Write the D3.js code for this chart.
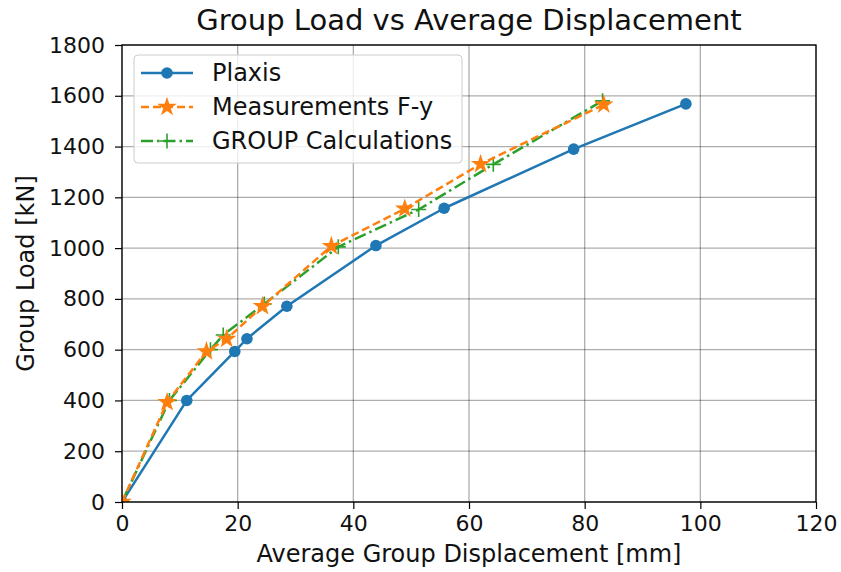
<!DOCTYPE html>
<html>
<head>
<meta charset="utf-8">
<script src="https://cdn.jsdelivr.net/npm/d3@7"></script>
<style>
  html, body { margin: 0; padding: 0; background: #fff; }
  svg { display: block; font-family: "DejaVu Sans", sans-serif; }
</style>
</head>
<body>
<svg id="chart" width="841" height="572"></svg>
<script>
// Load–displacement series (displacement in mm, load in kN)
const plaxisX = [0, 11.2, 19.5, 21.6, 28.5, 43.9, 55.7, 78.1, 97.5];
const plaxisY = [0, 400, 593, 643, 771, 1010, 1157, 1390, 1568];

const measX = [0, 7.8, 14.6, 18.1, 24.3, 36.2, 48.9, 62.0, 83.3];
const measY = [0, 393, 593, 642, 771, 1008, 1155, 1331, 1565];

const groupX = [0, 8.2, 15.3, 17.5, 24.6, 37.4, 51.3, 64.2, 83.1];
const groupY = [0, 400, 600, 658, 780, 1005, 1152, 1330, 1580];

const xTicks = [0, 20, 40, 60, 80, 100, 120];
const yTicks = [0, 200, 400, 600, 800, 1000, 1200, 1400, 1600, 1800];

const seriesNames = ["Plaxis", "Measurements F-y", "GROUP Calculations"];
const titleText = "Group Load vs Average Displacement";
const xLabelText = "Average Group Displacement [mm]";
const yLabelText = "Group Load [kN]";

const W = 841, H = 572;
const margin = { left: 122, right: 25, top: 45, bottom: 70 };
const iw = W - margin.left - margin.right;
const ih = H - margin.top - margin.bottom;

const svg = d3.select("#chart");
const g = svg.append("g").attr("transform", `translate(${margin.left},${margin.top})`);

const x = d3.scaleLinear().domain([0, 120]).range([0, iw]);
const y = d3.scaleLinear().domain([0, 1800]).range([ih, 0]);

const colors = { blue: "#1f77b4", orange: "#ff7f0e", green: "#2ca02c" };
const tickFont = 22, labelFont = 24, titleFont = 29;
const lw = 2.5;
const orangeDash = "8,4";
const greenDash = "12,4,2.5,4";

// clip region for the plot area
svg.append("defs").append("clipPath").attr("id", "plotClip")
  .append("rect").attr("x", 0).attr("y", 0).attr("width", iw).attr("height", ih);

// grid
const grid = g.append("g");
grid.selectAll(".gx").data(xTicks).join("line")
  .attr("x1", d => x(d)).attr("x2", d => x(d)).attr("y1", 0).attr("y2", ih)
  .attr("stroke", "#000").attr("stroke-opacity", 0.32).attr("stroke-width", 1.3);
grid.selectAll(".gy").data(yTicks).join("line")
  .attr("y1", d => y(d)).attr("y2", d => y(d)).attr("x1", 0).attr("x2", iw)
  .attr("stroke", "#000").attr("stroke-opacity", 0.32).attr("stroke-width", 1.3);

const plot = g.append("g").attr("clip-path", "url(#plotClip)");
const line = d3.line().x(d => x(d[0])).y(d => y(d[1]));

const plaxis = plaxisX.map((v, i) => [v, plaxisY[i]]);
const meas = measX.map((v, i) => [v, measY[i]]);
const group = groupX.map((v, i) => [v, groupY[i]]);

const star = d3.symbol().type(d3.symbolStar).size(120);
const plusPath = "M-7.5,0H7.5M0,-7.5V7.5";

// Plaxis: solid line with circles
plot.append("path").attr("d", line(plaxis)).attr("fill", "none")
  .attr("stroke", colors.blue).attr("stroke-width", lw).attr("stroke-linejoin", "round");
plot.selectAll(".pc").data(plaxis).join("circle")
  .attr("cx", d => x(d[0])).attr("cy", d => y(d[1])).attr("r", 5.8)
  .attr("fill", colors.blue);

// GROUP calculations: dash-dot line with plus markers
plot.append("path").attr("d", line(group)).attr("fill", "none")
  .attr("stroke", colors.green).attr("stroke-width", lw).attr("stroke-dasharray", greenDash);
plot.selectAll(".gp").data(group).join("path")
  .attr("transform", d => `translate(${x(d[0])},${y(d[1])})`)
  .attr("d", plusPath).attr("stroke", colors.green).attr("stroke-width", 1.6).attr("fill", "none");

// Measurements: dashed line with stars
plot.append("path").attr("d", line(meas)).attr("fill", "none")
  .attr("stroke", colors.orange).attr("stroke-width", lw).attr("stroke-dasharray", orangeDash);
plot.selectAll(".ms").data(meas).join("path")
  .attr("transform", d => `translate(${x(d[0])},${y(d[1])})`)
  .attr("d", star).attr("fill", colors.orange);

// axes
const fmt = d3.format("d");
const xAxis = d3.axisBottom(x).tickValues(xTicks).tickFormat(fmt).tickSize(7).tickPadding(6);
const yAxis = d3.axisLeft(y).tickValues(yTicks).tickFormat(fmt).tickSize(7).tickPadding(10);
const gx = g.append("g").attr("transform", `translate(0,${ih})`).call(xAxis);
const gy = g.append("g").call(yAxis);
[gx, gy].forEach(a => {
  a.select(".domain").remove();
  a.selectAll(".tick line").attr("stroke", "#000").attr("stroke-width", 1.2);
  a.selectAll(".tick text").attr("font-size", tickFont).attr("fill", "#111")
    .attr("font-family", "DejaVu Sans");
});

// frame
g.append("rect").attr("x", 0).attr("y", 0).attr("width", iw).attr("height", ih)
  .attr("fill", "none").attr("stroke", "#000").attr("stroke-width", 1.3);

// title and labels
svg.append("text").attr("x", margin.left + iw / 2).attr("y", 30)
  .attr("text-anchor", "middle").attr("font-size", titleFont).attr("fill", "#111").text(titleText);
svg.append("text").attr("x", margin.left + iw / 2).attr("y", 562)
  .attr("text-anchor", "middle").attr("font-size", labelFont).attr("fill", "#111").text(xLabelText);
svg.append("text").attr("transform", `translate(34,${margin.top + ih / 2}) rotate(-90)`)
  .attr("text-anchor", "middle").attr("font-size", labelFont).attr("fill", "#111").text(yLabelText);

// legend
const lg = g.append("g").attr("transform", "translate(12,10)");
lg.append("rect").attr("x", 0).attr("y", 0).attr("width", 328).attr("height", 108)
  .attr("rx", 4).attr("fill", "#fff").attr("fill-opacity", 0.8)
  .attr("stroke", "#ccc").attr("stroke-width", 1);
const entries = [
  { name: seriesNames[0], color: colors.blue, dash: null, marker: "circle" },
  { name: seriesNames[1], color: colors.orange, dash: orangeDash, marker: "star" },
  { name: seriesNames[2], color: colors.green, dash: greenDash, marker: "plus" }
];
entries.forEach((e, i) => {
  const ey = 18 + i * 34;
  const row = lg.append("g").attr("transform", `translate(0,${ey})`);
  row.append("line").attr("x1", 7).attr("x2", 59).attr("y1", 0).attr("y2", 0)
    .attr("stroke", e.color).attr("stroke-width", lw)
    .attr("stroke-dasharray", e.dash);
  if (e.marker === "circle") {
    row.append("circle").attr("cx", 33).attr("cy", 0).attr("r", 5.8).attr("fill", e.color);
  } else if (e.marker === "star") {
    row.append("path").attr("transform", "translate(33,0)").attr("d", star).attr("fill", e.color);
  } else {
    row.append("path").attr("transform", "translate(33,0)").attr("d", plusPath)
      .attr("stroke", e.color).attr("stroke-width", 1.6);
  }
  row.append("text").attr("x", 78).attr("y", 0).attr("dy", "0.35em")
    .attr("font-size", labelFont).attr("fill", "#111").text(e.name);
});
</script>
</body>
</html>
